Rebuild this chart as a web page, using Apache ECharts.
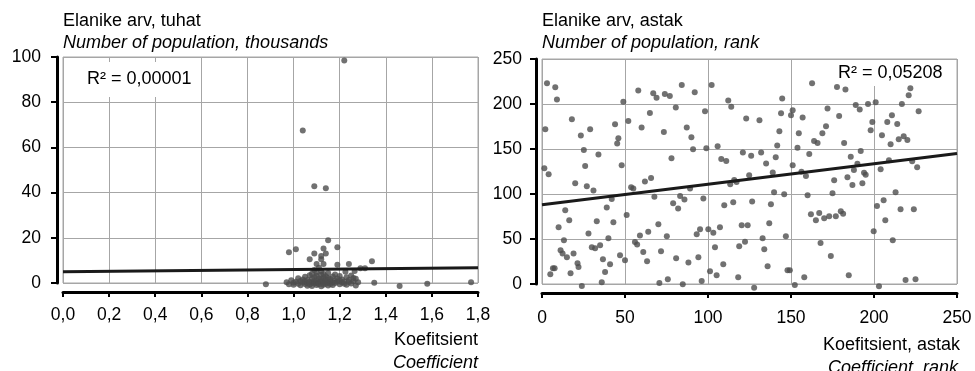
<!DOCTYPE html>
<html>
<head>
<meta charset="utf-8">
<script src="https://cdn.jsdelivr.net/npm/echarts@6/dist/echarts.min.js"></script>
<style>
  html, body { margin: 0; padding: 0; background: #fff; }
  #chart { width: 975px; height: 371px; }
</style>
</head>
<body>
<div id="chart"></div>
<script>
// left chart: coefficient vs population (thousands)
const leftPoints = [
  [1.22, 98.5], [1.04, 67.5], [1.09, 42.8], [1.14, 41.9], [1.15, 18.9], [1.19, 15.8],
  [0.98, 13.6], [1.01, 14.9], [1.09, 13.1], [1.13, 15.3], [1.14, 13.1], [1.12, 11.9],
  [1.12, 10.5], [1.07, 10.5], [1.34, 9.6], [1.10, 8.4], [1.13, 8.4], [1.19, 8.1],
  [1.24, 8.4], [1.29, 6.5], [1.31, 6.5], [1.225, 5.0], [1.265, 5.3], [1.26, 2.2],
  [1.35, 0.1], [1.46, -1.3], [1.58, -0.3], [1.77, 0.3], [0.88, -0.6],
  [0.97, 0.3], [0.98, -0.5], [0.99, 1.2], [1.00, 0.1], [1.00, -0.8], [1.01, 0.6],
  [1.02, 2.1], [1.02, -0.3], [1.03, 0.9], [1.03, -1.0], [1.04, 0.2], [1.04, 1.6],
  [1.05, -0.4], [1.05, 0.8], [1.05, 2.8], [1.06, 0.0], [1.06, -1.2], [1.06, 1.3],
  [1.07, 0.5], [1.07, 3.4], [1.07, -0.7], [1.08, 0.2], [1.08, 1.9], [1.08, -1.3],
  [1.08, 4.1], [1.09, 0.7], [1.09, -0.2], [1.09, 2.5], [1.09, 5.8], [1.10, 0.0],
  [1.10, 1.1], [1.10, -0.9], [1.10, 3.2], [1.10, 4.6], [1.11, 0.4], [1.11, 2.0],
  [1.11, -0.5], [1.11, 6.7], [1.12, 0.9], [1.12, -1.4], [1.12, 1.7], [1.12, 3.6],
  [1.12, 5.2], [1.13, 0.1], [1.13, 2.4], [1.13, -0.8], [1.13, 4.0], [1.14, 0.6],
  [1.14, 1.5], [1.14, -0.3], [1.14, 3.0], [1.15, 0.2], [1.15, 2.2], [1.15, -1.1],
  [1.15, 4.4], [1.16, 0.8], [1.16, -0.4], [1.16, 1.8], [1.17, 0.3], [1.17, 2.9],
  [1.17, -0.9], [1.18, 1.2], [1.18, 0.0], [1.18, 3.8], [1.19, 0.5], [1.19, 2.0],
  [1.20, -0.6], [1.20, 1.0], [1.20, 3.1], [1.21, 0.2], [1.21, 1.6], [1.22, -0.3],
  [1.22, 0.7], [1.23, 2.5], [1.23, -0.8], [1.24, 0.4], [1.24, 1.3], [1.25, -0.2],
  [1.25, 3.3], [1.26, 0.9], [1.27, -1.1], [1.27, 1.9], [1.28, 0.3]
];
const leftTrend = [[0, 5.0], [1.8, 6.8]];

// right chart: coefficient rank vs population rank
const rightPoints = [
  [3, 223], [8, 218.5], [9, 205], [2, 172], [18, 183], [23.4, 165], [29, 172], [1.4, 128.5],
  [4, 122], [25.2, 149], [26, 131], [34, 144], [20, 112], [27, 108.5], [31, 104], [44, 177.5],
  [46, 162], [45.3, 156], [49, 202.5], [48, 132], [52, 181], [58, 215], [60, 174], [65, 190],
  [67, 212], [53.7, 107.4], [55, 106], [62, 114], [65.7, 117.8], [67.7, 97], [51, 76.7],
  [42, 94.4], [39, 85], [43, 68.6], [14, 82], [16.4, 70.8], [10, 63], [13.2, 48.5],
  [11.2, 37.4], [12.4, 34], [15, 29.6], [19, 34], [17.2, 11.9], [21.4, 23], [22, 19],
  [5, 10.8], [6.6, 17.4], [7.6, 17.4], [24, -2.2], [28, 56], [33, 69.6], [30, 40.7],
  [32, 39.6], [35, 43], [36.7, 27.4], [38, 13.3], [41, 21.9], [36, 1.9], [40, 50.8],
  [47, 31.9], [50, 26.3], [56, 46.7], [57.3, 44], [59, 54], [61, 35.5], [63.3, 25.2], [64, 58],
  [69, 207], [74, 211], [77, 209], [84.2, 221], [102.2, 221], [92, 213], [80.6, 196],
  [98.2, 192], [112.2, 204], [114, 197], [73.4, 169], [87.2, 174], [90, 163], [91, 149.7],
  [99, 150.8], [105.8, 153], [78, 139.7], [108, 139], [111, 136.7], [121, 146], [126, 142.6],
  [132, 146], [123, 184], [131, 182], [144.7, 206], [144, 189.6], [150, 187.4], [151, 193],
  [143, 169.7], [141.7, 154], [140.8, 140.8], [135, 134], [151, 132], [124.8, 120.8],
  [139, 124], [115.8, 115.6], [117.2, 113.3], [113.4, 110.8], [89.2, 106], [83.2, 97.8],
  [85.8, 94], [79, 89.6], [82, 84], [97.2, 95], [109.8, 87.4], [115.2, 90.8], [126.6, 91.8],
  [137.9, 88.5], [139.8, 101.9], [145.9, 99.6], [70.1, 66.3], [75.2, 53], [93.2, 55.2],
  [95.2, 60.7], [100.2, 60.7], [103.2, 57], [107.2, 63], [120.3, 65.2], [123.9, 65.2],
  [136.9, 67.4], [132.9, 50.8], [122.3, 47], [118.8, 41.9], [104.2, 40.7], [133.9, 38.5],
  [146.9, 53], [71.7, 36.3], [80.8, 28.5], [88.2, 24], [94.2, 29.6], [109.2, 21.9],
  [135.9, 19.6], [147.9, 15.2], [149.3, 15.2], [101.2, 14.1], [105.2, 9.7], [118.2, 7.4],
  [70.7, 1.1], [75.8, 5.2], [84.8, -0.4], [96.2, 3.3], [127.8, -4.1], [152.3, -1.1],
  [162.7, 223], [177.7, 219], [182.8, 216], [172, 195], [157, 185], [179, 186.7], [189, 199],
  [191.4, 194], [196.4, 200], [201, 202], [154.7, 167.4], [171.1, 175.2], [168.9, 167.4],
  [163.9, 159], [166, 156.7], [153.9, 151.5], [182, 156.7], [199, 180], [198, 170.7],
  [208, 180], [210.8, 187.4], [214, 177.8], [216.8, 200], [220.9, 209.7], [221.9, 217.4],
  [226.9, 191.9], [204.8, 165.2], [210, 155.2], [214.9, 160.8], [217.9, 164.1], [220.1, 160],
  [161, 144.4], [156.3, 124.8], [159, 120], [192, 147.8], [186, 141.4], [190, 133.7],
  [187.9, 126.7], [194, 123.7], [195, 121.4], [184, 118.5], [176, 115.2], [187, 110],
  [193, 111.9], [204, 127.4], [209, 137.4], [223, 136.3], [226, 129.7], [160, 98.5],
  [175, 100.7], [162, 77.4], [165, 70.7], [167, 78.9], [170, 73], [173, 75.2], [177, 75.2],
  [180, 80.8], [181.4, 78.1], [201.8, 86.7], [205.8, 93], [213, 101.9], [216, 83], [224, 83],
  [206.8, 70.8], [199.8, 58.5], [167.8, 45.5], [174, 31.1], [211.3, 48.5], [158, 7.4],
  [184.8, 9.7], [203, -2.6], [219, 4.4], [225, 5.2]
];
const rightTrend = [[0, 88], [250, 145]];

const leftR2 = "R² = 0,00001";
const rightR2 = "R² = 0,05208";

const FONT = "'Liberation Sans', Arial, sans-serif";
const gridColor = "#a6a6a6";
const dotColor = "#4d4d4d";

let myChart = echarts.init(document.getElementById("chart"));

function comma(v, d) {
  return v.toFixed(d).replace(".", ",");
}

function xAxisOf(idx, min, max, interval, margin, fmt) {
  return {
    type: "value",
    gridIndex: idx,
    min: min,
    max: max,
    interval: interval,
    offset: 9,
    axisLine: { show: true, onZero: false, lineStyle: { color: "#000", width: 3 } },
    axisTick: { show: true, length: 5, lineStyle: { color: "#000", width: 2 } },
    axisLabel: { margin: margin, fontSize: 17.5, fontFamily: FONT, color: "#000", formatter: fmt },
    splitLine: { show: true, lineStyle: { color: gridColor, width: 1 } }
  };
}

function yAxisOf(idx, min, max, interval, margin) {
  return {
    type: "value",
    gridIndex: idx,
    min: min,
    max: max,
    interval: interval,
    offset: 6,
    axisLine: { show: true, onZero: false, lineStyle: { color: "#000", width: 3 } },
    axisTick: { show: true, length: 6, lineStyle: { color: "#000", width: 2 } },
    axisLabel: { margin: margin, fontSize: 17.5, fontFamily: FONT, color: "#000" },
    splitLine: { show: true, lineStyle: { color: gridColor, width: 1 } }
  };
}

function txt(x, y, text, align, italic) {
  return {
    type: "text",
    x: x,
    y: y,
    z: 10,
    style: {
      text: text,
      font: (italic ? "italic " : "") + "18px " + FONT,
      fill: "#000",
      textAlign: align,
      textVerticalAlign: "middle"
    }
  };
}

let option = {
  animation: false,
  backgroundColor: "#fff",
  grid: [
    { left: 63, top: 57, width: 415, height: 226, show: true, borderColor: gridColor, borderWidth: 1 },
    { left: 542, top: 59, width: 415, height: 225, show: true, borderColor: gridColor, borderWidth: 1 }
  ],
  xAxis: [
    xAxisOf(0, 0, 1.8, 0.2, 14, v => comma(v, 1)),
    xAxisOf(1, 0, 250, 50, 16, v => String(v))
  ],
  yAxis: [
    yAxisOf(0, 0, 100, 20, 16),
    yAxisOf(1, 0, 250, 50, 14)
  ],
  graphic: [
    { type: "rect", z: 1, shape: { x: 80, y: 62, width: 118, height: 35 }, style: { fill: "#fff" } },
    { type: "rect", z: 1, shape: { x: 832, y: 60, width: 118, height: 26 }, style: { fill: "#fff" } },
    txt(87, 79, leftR2, "left", false),
    txt(838, 73, rightR2, "left", false),
    txt(63, 21, "Elanike arv, tuhat", "left", false),
    txt(63, 43, "Number of population, thousands", "left", true),
    txt(542, 21, "Elanike arv, astak", "left", false),
    txt(542, 43, "Number of population, rank", "left", true),
    txt(478, 340, "Koefitsient", "right", false),
    txt(478, 363, "Coefficient", "right", true),
    txt(960, 345, "Koefitsient, astak", "right", false),
    txt(958, 368, "Coefficient, rank", "right", true)
  ],
  series: [
    {
      type: "scatter",
      xAxisIndex: 0,
      yAxisIndex: 0,
      data: leftPoints,
      symbolSize: 6,
      clip: false,
      itemStyle: { color: dotColor },
      z: 3
    },
    {
      type: "line",
      xAxisIndex: 0,
      yAxisIndex: 0,
      data: leftTrend,
      symbol: "none",
      lineStyle: { color: "#1a1a1a", width: 3 },
      z: 4
    },
    {
      type: "scatter",
      xAxisIndex: 1,
      yAxisIndex: 1,
      data: rightPoints,
      symbolSize: 6,
      clip: false,
      itemStyle: { color: dotColor },
      z: 3
    },
    {
      type: "line",
      xAxisIndex: 1,
      yAxisIndex: 1,
      data: rightTrend,
      symbol: "none",
      lineStyle: { color: "#1a1a1a", width: 3 },
      z: 4
    }
  ]
};
myChart.setOption(option);
window.addEventListener("resize", function () {
  myChart.resize();
});
</script>
</body>
</html>
